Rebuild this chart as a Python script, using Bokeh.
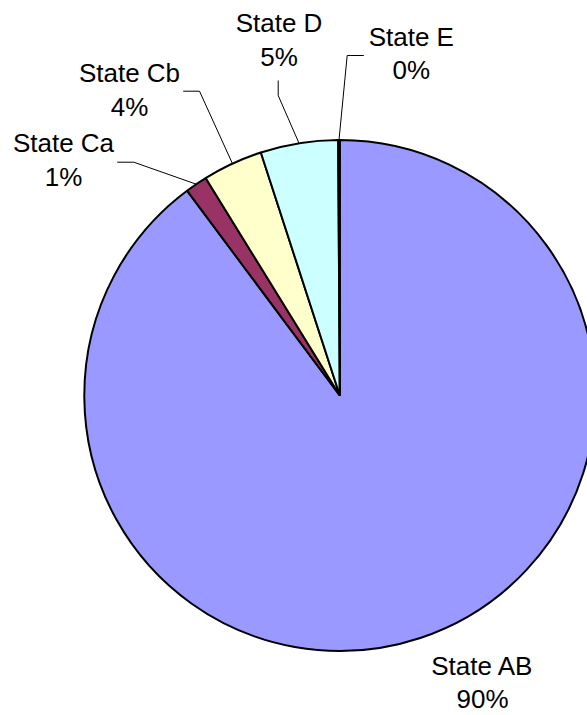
import math
from bokeh.plotting import figure
from bokeh.models import Range1d, ColumnDataSource
from bokeh.core.properties import value
from bokeh.embed import file_html
from bokeh.resources import INLINE

# Share of time spent in each state
states = ["State AB", "State Ca", "State Cb", "State D", "State E"]
shares = [89.8, 1.4, 3.8, 4.9, 0.1]
colors = ["#9999FF", "#993366", "#FFFFCC", "#CCFFFF", "#660066"]

W, H = 587, 715
CX, CY, R = 339.3, H - 395.0, 255.5
FONT = value("Liberation Sans")
FSIZE = "26px"

# label layout: (text centre x, name baseline y, leader start, leader elbow), page pixels
label_layout = {
    "State AB": (482.0, 676.0, None, None),
    "State Ca": (63.0, 153.3, (116.7, 161.7), (133.3, 161.7)),
    "State Cb": (129.0, 83.3, (182.7, 90.7), (199.0, 90.7)),
    "State D": (278.5, 33.3, (277.7, 80.0), (277.7, 95.0)),
    "State E": (410.8, 46.7, (363.3, 55.0), (346.7, 55.0)),
}
LINE_GAP = 33.4
TEXT_SHIFT = 10.5  # renderer places the alphabetic baseline a little low

total = sum(shares)
starts, ends, mids = [], [], []
cum = 0.0
for v in shares:
    c0 = cum / total
    cum += v
    c1 = cum / total
    # slices run clockwise from twelve o'clock
    starts.append(math.radians(90 - 360 * c1))
    ends.append(math.radians(90 - 360 * c0))
    mids.append(math.radians(90 - 360 * (c0 + c1) / 2))

p = figure(width=W, height=H, output_backend="svg", toolbar_location=None,
           x_range=Range1d(0, W), y_range=Range1d(0, H),
           x_axis_type=None, y_axis_type=None, min_border=0,
           background_fill_color="white", border_fill_color="white")
p.outline_line_color = None
p.grid.visible = False

src = ColumnDataSource(dict(start=starts, end=ends, color=colors))
p.wedge(x=CX, y=CY, radius=R, start_angle="start", end_angle="end",
        fill_color="color", line_color="black", line_width=2, source=src)

names, pcts, nx, ny, px, py = [], [], [], [], [], []
for name, v, m in zip(states, shares, mids):
    lx, base, start, elbow = label_layout[name]
    names.append(name)
    pcts.append(f"{round(100 * v / total)}%")
    nx.append(lx)
    ny.append(H - base + TEXT_SHIFT)
    px.append(lx)
    py.append(H - base - LINE_GAP + TEXT_SHIFT)
    if start is not None:
        rim = (CX + R * math.cos(m), CY + R * math.sin(m))
        p.line([start[0], elbow[0], rim[0]], [H - start[1], H - elbow[1], rim[1]],
               line_color="black", line_width=1)

p.text(x=nx, y=ny, text=names, text_font=FONT, text_font_size=FSIZE,
       text_align="center", text_baseline="alphabetic", text_color="black")
p.text(x=px, y=py, text=pcts, text_font=FONT, text_font_size=FSIZE,
       text_align="center", text_baseline="alphabetic", text_color="black")

open("out.html", "w").write(file_html(p, INLINE))
